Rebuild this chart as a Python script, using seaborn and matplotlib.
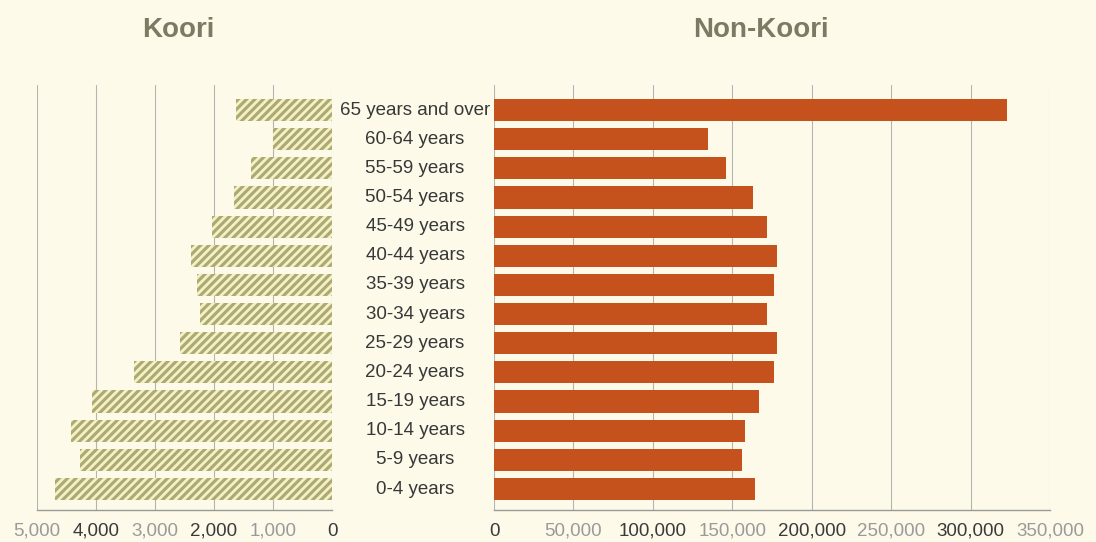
import matplotlib
matplotlib.use('Agg')
import matplotlib.pyplot as plt
import matplotlib.transforms as mtransforms
import seaborn as sns
import pandas as pd

age_groups = ['65 years and over', '60-64 years', '55-59 years', '50-54 years',
              '45-49 years', '40-44 years', '35-39 years', '30-34 years',
              '25-29 years', '20-24 years', '15-19 years', '10-14 years',
              '5-9 years', '0-4 years']
koori = [1630, 1000, 1370, 1660, 2030, 2390, 2290, 2240, 2580, 3360, 4070, 4420, 4270, 4690]
non_koori = [323000, 135000, 146000, 163000, 172000, 178000, 176000, 172000,
             178000, 176000, 167000, 158000, 156000, 164000]
koori_ticks = [5000, 4000, 3000, 2000, 1000, 0]
non_koori_ticks = [0, 50000, 100000, 150000, 200000, 250000, 300000, 350000]

df = pd.DataFrame({'age': age_groups, 'koori': koori, 'non_koori': non_koori})

bg = '#fdfaea'
sns.set_style('white')
plt.rcParams['font.family'] = ['Liberation Sans', 'DejaVu Sans']
plt.rcParams['hatch.linewidth'] = 2.0

fig = plt.figure(figsize=(10.96, 5.42), dpi=100, facecolor=bg)
ax_l = fig.add_axes([37/1096, 1-510/542, 295/1096, 425/542])
ax_r = fig.add_axes([494/1096, 1-510/542, 556/1096, 425/542])

sns.barplot(data=df, x='koori', y='age', order=age_groups, ax=ax_l,
            color='#aca971', orient='h', width=0.76, edgecolor='#f4f0c8',
            linewidth=0, saturation=1)
for p in ax_l.patches:
    p.set_hatch('////')

sns.barplot(data=df, x='non_koori', y='age', order=age_groups, ax=ax_r,
            color='#c5521c', orient='h', width=0.76, linewidth=0, saturation=1)

for ax, ticks, lim in [(ax_l, koori_ticks, (5000, 0)), (ax_r, non_koori_ticks, (0, 350000))]:
    ax.set_facecolor(bg)
    ax.set_xlim(*lim)
    ax.set_ylim(13.72, -0.86)
    ax.set_xticks(ticks)
    ax.set_xticklabels([f'{t:,}' for t in ticks], fontsize=13.5)
    ax.set_yticks([])
    ax.set_xlabel('')
    ax.set_ylabel('')
    ax.grid(True, axis='x', color='#b4b4b0', linewidth=0.8)
    ax.set_axisbelow(True)
    for s in ['top', 'right', 'left']:
        ax.spines[s].set_visible(False)
    ax.spines['bottom'].set_color('#9a9a96')
    ax.spines['bottom'].set_linewidth(1.0)
    ax.tick_params(axis='x', length=0, pad=9)

# alternating tick label colours
dark, light = '#3a3a3a', '#9a9a9a'
for lbl, t in zip(ax_l.get_xticklabels(), koori_ticks):
    lbl.set_color(dark if (t // 1000) % 2 == 0 else light)
for lbl, t in zip(ax_r.get_xticklabels(), non_koori_ticks):
    lbl.set_color(dark if (t // 50000) % 2 == 0 else light)

# age labels in the middle
trans = mtransforms.blended_transform_factory(fig.transFigure, ax_r.transData)
for i, a in enumerate(age_groups):
    fig.text(415/1096, i, a, transform=trans, ha='center', va='center',
             fontsize=13.5, color='#383838')

fig.text(178/1096, 1-30/542, 'Koori', ha='center', va='center',
         fontsize=20, fontweight='bold', color='#7c7a62')
fig.text(761/1096, 1-30/542, 'Non-Koori', ha='center', va='center',
         fontsize=20, fontweight='bold', color='#7c7a62')

fig.savefig('out.png', dpi=100, facecolor=bg)
